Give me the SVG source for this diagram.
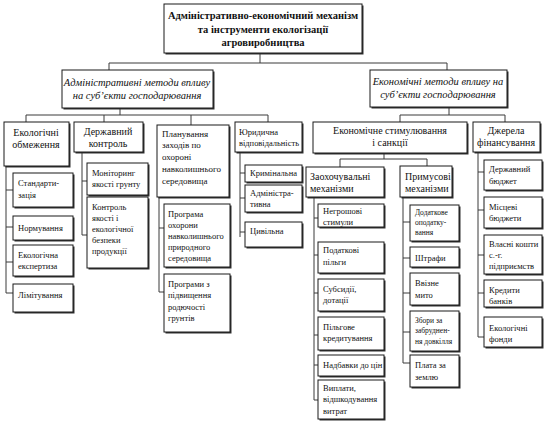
<svg xmlns="http://www.w3.org/2000/svg" width="548" height="422" viewBox="0 0 548 422">
<style>
.bx{fill:#fff;stroke:#1a1a1a;stroke-width:1}
.sh{fill:#333}
.cn{fill:none;stroke:#3a3a3a;stroke-width:1}
text{font-family:"Liberation Serif","Times New Roman",serif;fill:#111}
.t{font-size:10.5px;font-weight:bold;text-anchor:middle}
.i{font-size:10.5px;font-style:italic;text-anchor:middle}
.h{font-size:10px;text-anchor:middle}
.hl{font-size:10px}
.c{font-size:8.5px}
.s{font-size:7.5px}
.p{font-size:9px}
</style>
<rect width="548" height="422" fill="#fff"/>
<g id="connectors" class="cn">
<path d="M260 54V63M109 63H447M109 63V70M447 63V70"/>
<path d="M120 108V115M26 115H268M26 115V122M104 115V122M191 115V125M268 115V122"/>
<path d="M449 107V115M400 115H505M400 115V122M505 115V122"/>
<path d="M384 153V159M340 159H427M340 159V167M427 159V166"/>
<path d="M6 166V293M6 190H13M6 227H13M6 262H13M6 293H13"/>
<path d="M82 152V235M82 181H87M82 235H87"/>
<path d="M159 197V292M159 228H164M159 292H164"/>
<path d="M240 152V237M240 173H245M240 198H245M240 232H245"/>
<path d="M314 197V400M314 218H318M314 255H318M314 293H318M314 335H318M314 365H318M314 400H318"/>
<path d="M403 197V363M403 222H410M403 258H410M403 293H410M403 332H410M403 363H410"/>
<path d="M478 152V337M478 172H484M478 210H484M478 255H484M478 293H484M478 337H484"/>
</g>
<g id="title"><rect class="sh" x="165.5" y="5.5" width="198" height="49"/><rect class="bx" x="164" y="4" width="198" height="49"/>
<text class="t" x="263" y="19">Адміністративно-економічний механізм</text><text class="t" x="263" y="33">та  інструменти екологізації</text><text class="t" x="263" y="46">агровиробництва</text></g>
<g id="admin"><rect class="sh" x="63.5" y="71.5" width="151" height="38"/><rect class="bx" x="62" y="70" width="151" height="38"/>
<text class="i" x="137" y="86">Адміністративні методи впливу</text><text class="i" x="137" y="99">на суб’єкти господарювання</text></g>
<g id="econ"><rect class="sh" x="371.5" y="71.5" width="137" height="37"/><rect class="bx" x="370" y="70" width="137" height="37"/>
<text class="i" x="438" y="85">Економічні методи впливу на</text><text class="i" x="438" y="98">суб’єкти господарювання</text></g>
<g id="eco-limits"><rect class="sh" x="5.5" y="123.5" width="65" height="44"/><rect class="bx" x="4" y="122" width="65" height="44"/>
<text class="h" x="36" y="136">Екологічні</text><text class="h" x="36" y="148">обмеження</text></g>
<g id="state-control"><rect class="sh" x="75.5" y="123.5" width="69" height="30"/><rect class="bx" x="74" y="122" width="69" height="30"/>
<text class="h" x="108" y="135">Державний</text><text class="h" x="108" y="147">контроль</text></g>
<g id="planning"><rect class="sh" x="158.5" y="126.5" width="72" height="72"/><rect class="bx" x="157" y="125" width="72" height="72"/>
<text class="p" x="162" y="137">Планування</text><text class="p" x="162" y="148">заходів по</text><text class="p" x="162" y="160">охороні</text><text class="p" x="162" y="172">навколишнього</text><text class="p" x="162" y="184">середовища</text></g>
<g id="legal"><rect class="sh" x="236.5" y="123.5" width="67" height="30"/><rect class="bx" x="235" y="122" width="67" height="30"/>
<text class="c" x="239" y="135">Юридична</text><text class="c" x="239" y="146" textLength="60" lengthAdjust="spacingAndGlyphs">відповідальність</text></g>
<g id="stimulation"><rect class="sh" x="314.5" y="123.5" width="154" height="31"/><rect class="bx" x="313" y="122" width="154" height="31"/>
<text class="h" x="390" y="134">Економічне стимулювання</text><text class="h" x="390" y="146">і санкції</text></g>
<g id="funding"><rect class="sh" x="474.5" y="123.5" width="67" height="30"/><rect class="bx" x="473" y="122" width="67" height="30"/>
<text class="h" x="506" y="134">Джерела</text><text class="h" x="506" y="146">фінансування</text></g>
<g id="incentive"><rect class="sh" x="307.5" y="168.5" width="78" height="30"/><rect class="bx" x="306" y="167" width="78" height="30"/>
<text class="hl" x="310" y="180">Заохочувальні</text><text class="hl" x="310" y="192">механізми</text></g>
<g id="coercive"><rect class="sh" x="401.5" y="167.5" width="52" height="31"/><rect class="bx" x="400" y="166" width="52" height="31"/>
<text class="hl" x="405" y="180">Примусові</text><text class="hl" x="405" y="192">механізми</text></g>
<g id="standard"><rect class="sh" x="14.5" y="174.5" width="60" height="34"/><rect class="bx" x="13" y="173" width="60" height="34"/>
<text class="c" x="18" y="186">Стандарти-</text><text class="c" x="18" y="198">зація</text></g>
<g id="norming"><rect class="sh" x="14.5" y="217.5" width="60" height="24"/><rect class="bx" x="13" y="216" width="60" height="24"/>
<text class="c" x="18" y="231">Нормування</text></g>
<g id="expertise"><rect class="sh" x="14.5" y="246.5" width="60" height="31"/><rect class="bx" x="13" y="245" width="60" height="31"/>
<text class="c" x="18" y="258">Екологічна</text><text class="c" x="18" y="269">експертиза</text></g>
<g id="limiting"><rect class="sh" x="14.5" y="285.5" width="60" height="28"/><rect class="bx" x="13" y="284" width="60" height="28"/>
<text class="c" x="18" y="298">Лімітування</text></g>
<g id="monitoring"><rect class="sh" x="88.5" y="164.5" width="61" height="32"/><rect class="bx" x="87" y="163" width="61" height="32"/>
<text class="c" x="92" y="176">Моніторинг</text><text class="c" x="92" y="187">якості грунту</text></g>
<g id="quality"><rect class="sh" x="88.5" y="198.5" width="61" height="71"/><rect class="bx" x="87" y="197" width="61" height="71"/>
<text class="c" x="92" y="210">Контроль</text><text class="c" x="92" y="221">якості і</text><text class="c" x="92" y="232">екологічної</text><text class="c" x="92" y="243">безпеки</text><text class="c" x="92" y="254">продукції</text></g>
<g id="env-program"><rect class="sh" x="165.5" y="205.5" width="66" height="63"/><rect class="bx" x="164" y="204" width="66" height="63"/>
<text class="c" x="168" y="217">Програма</text><text class="c" x="168" y="228">охорони</text><text class="c" x="168" y="239">навколишнього</text><text class="c" x="168" y="250">природного</text><text class="c" x="168" y="261">середовища</text></g>
<g id="fertility"><rect class="sh" x="165.5" y="275.5" width="66" height="58"/><rect class="bx" x="164" y="274" width="66" height="58"/>
<text class="c" x="168" y="287">Програми з</text><text class="c" x="168" y="298">підвищення</text><text class="c" x="168" y="310">родючості</text><text class="c" x="168" y="321">грунтів</text></g>
<g id="criminal"><rect class="sh" x="246.5" y="166.5" width="57" height="17"/><rect class="bx" x="245" y="165" width="57" height="17"/>
<text class="c" x="250" y="176">Кримінальна</text></g>
<g id="administrative"><rect class="sh" x="246.5" y="186.5" width="57" height="27"/><rect class="bx" x="245" y="185" width="57" height="27"/>
<text class="c" x="250" y="196">Адміністра-</text><text class="c" x="250" y="207">тивна</text></g>
<g id="civil"><rect class="sh" x="246.5" y="223.5" width="57" height="25"/><rect class="bx" x="245" y="222" width="57" height="25"/>
<text class="c" x="250" y="234">Цивільна</text></g>
<g id="nonmonetary"><rect class="sh" x="319.5" y="205.5" width="66" height="23"/><rect class="bx" x="318" y="204" width="66" height="23"/>
<text class="c" x="323" y="214">Негрошові</text><text class="c" x="323" y="225">стимули</text></g>
<g id="tax-benefits"><rect class="sh" x="319.5" y="243.5" width="66" height="31"/><rect class="bx" x="318" y="242" width="66" height="31"/>
<text class="c" x="323" y="253">Податкові</text><text class="c" x="323" y="265">пільги</text></g>
<g id="subsidies"><rect class="sh" x="319.5" y="280.5" width="66" height="32"/><rect class="bx" x="318" y="279" width="66" height="32"/>
<text class="c" x="323" y="292">Субсидії,</text><text class="c" x="323" y="303">дотації</text></g>
<g id="credit"><rect class="sh" x="319.5" y="318.5" width="66" height="33"/><rect class="bx" x="318" y="317" width="66" height="33"/>
<text class="c" x="323" y="330">Пільгове</text><text class="c" x="323" y="341">кредитування</text></g>
<g id="markups"><rect class="sh" x="319.5" y="356.5" width="66" height="21"/><rect class="bx" x="318" y="355" width="66" height="21"/>
<text class="c" x="323" y="368">Надбавки до цін</text></g>
<g id="payments"><rect class="sh" x="319.5" y="381.5" width="66" height="39"/><rect class="bx" x="318" y="380" width="66" height="39"/>
<text class="c" x="323" y="391">Виплати,</text><text class="c" x="323" y="402">відшкодування</text><text class="c" x="323" y="414">витрат</text></g>
<g id="extra-tax"><rect class="sh" x="411.5" y="206.5" width="49" height="36"/><rect class="bx" x="410" y="205" width="49" height="36"/>
<text class="s" x="415" y="215">Додаткове</text><text class="s" x="415" y="225">оподатку-</text><text class="s" x="415" y="235">вання</text></g>
<g id="fines"><rect class="sh" x="411.5" y="248.5" width="49" height="20"/><rect class="bx" x="410" y="247" width="49" height="20"/>
<text class="c" x="415" y="261">Штрафи</text></g>
<g id="import-duty"><rect class="sh" x="411.5" y="274.5" width="49" height="32"/><rect class="bx" x="410" y="273" width="49" height="32"/>
<text class="c" x="415" y="286">Ввізне</text><text class="c" x="415" y="298">мито</text></g>
<g id="pollution-fees"><rect class="sh" x="411.5" y="312.5" width="49" height="40"/><rect class="bx" x="410" y="311" width="49" height="40"/>
<text class="s" x="415" y="323">Збори за</text><text class="s" x="415" y="333">забруднен-</text><text class="s" x="415" y="344">ня довкілля</text></g>
<g id="land-fee"><rect class="sh" x="411.5" y="356.5" width="49" height="32"/><rect class="bx" x="410" y="355" width="49" height="32"/>
<text class="c" x="415" y="368">Плата за</text><text class="c" x="415" y="380">землю</text></g>
<g id="state-budget"><rect class="sh" x="485.5" y="161.5" width="58" height="30"/><rect class="bx" x="484" y="160" width="58" height="30"/>
<text class="c" x="489" y="172">Державний</text><text class="c" x="489" y="184">бюджет</text></g>
<g id="local-budgets"><rect class="sh" x="485.5" y="198.5" width="58" height="31"/><rect class="bx" x="484" y="197" width="58" height="31"/>
<text class="c" x="489" y="210">Місцеві</text><text class="c" x="489" y="221">бюджети</text></g>
<g id="own-funds"><rect class="sh" x="485.5" y="236.5" width="58" height="39"/><rect class="bx" x="484" y="235" width="58" height="39"/>
<text class="c" x="489" y="247">Власні кошти</text><text class="c" x="489" y="258">с.-г.</text><text class="c" x="489" y="269">підприємств</text></g>
<g id="bank-credits"><rect class="sh" x="485.5" y="281.5" width="58" height="27"/><rect class="bx" x="484" y="280" width="58" height="27"/>
<text class="c" x="489" y="293">Кредити</text><text class="c" x="489" y="304">банків</text></g>
<g id="eco-funds"><rect class="sh" x="485.5" y="318.5" width="58" height="30"/><rect class="bx" x="484" y="317" width="58" height="30"/>
<text class="c" x="489" y="331">Екологічні</text><text class="c" x="489" y="342">фонди</text></g>
</svg>
